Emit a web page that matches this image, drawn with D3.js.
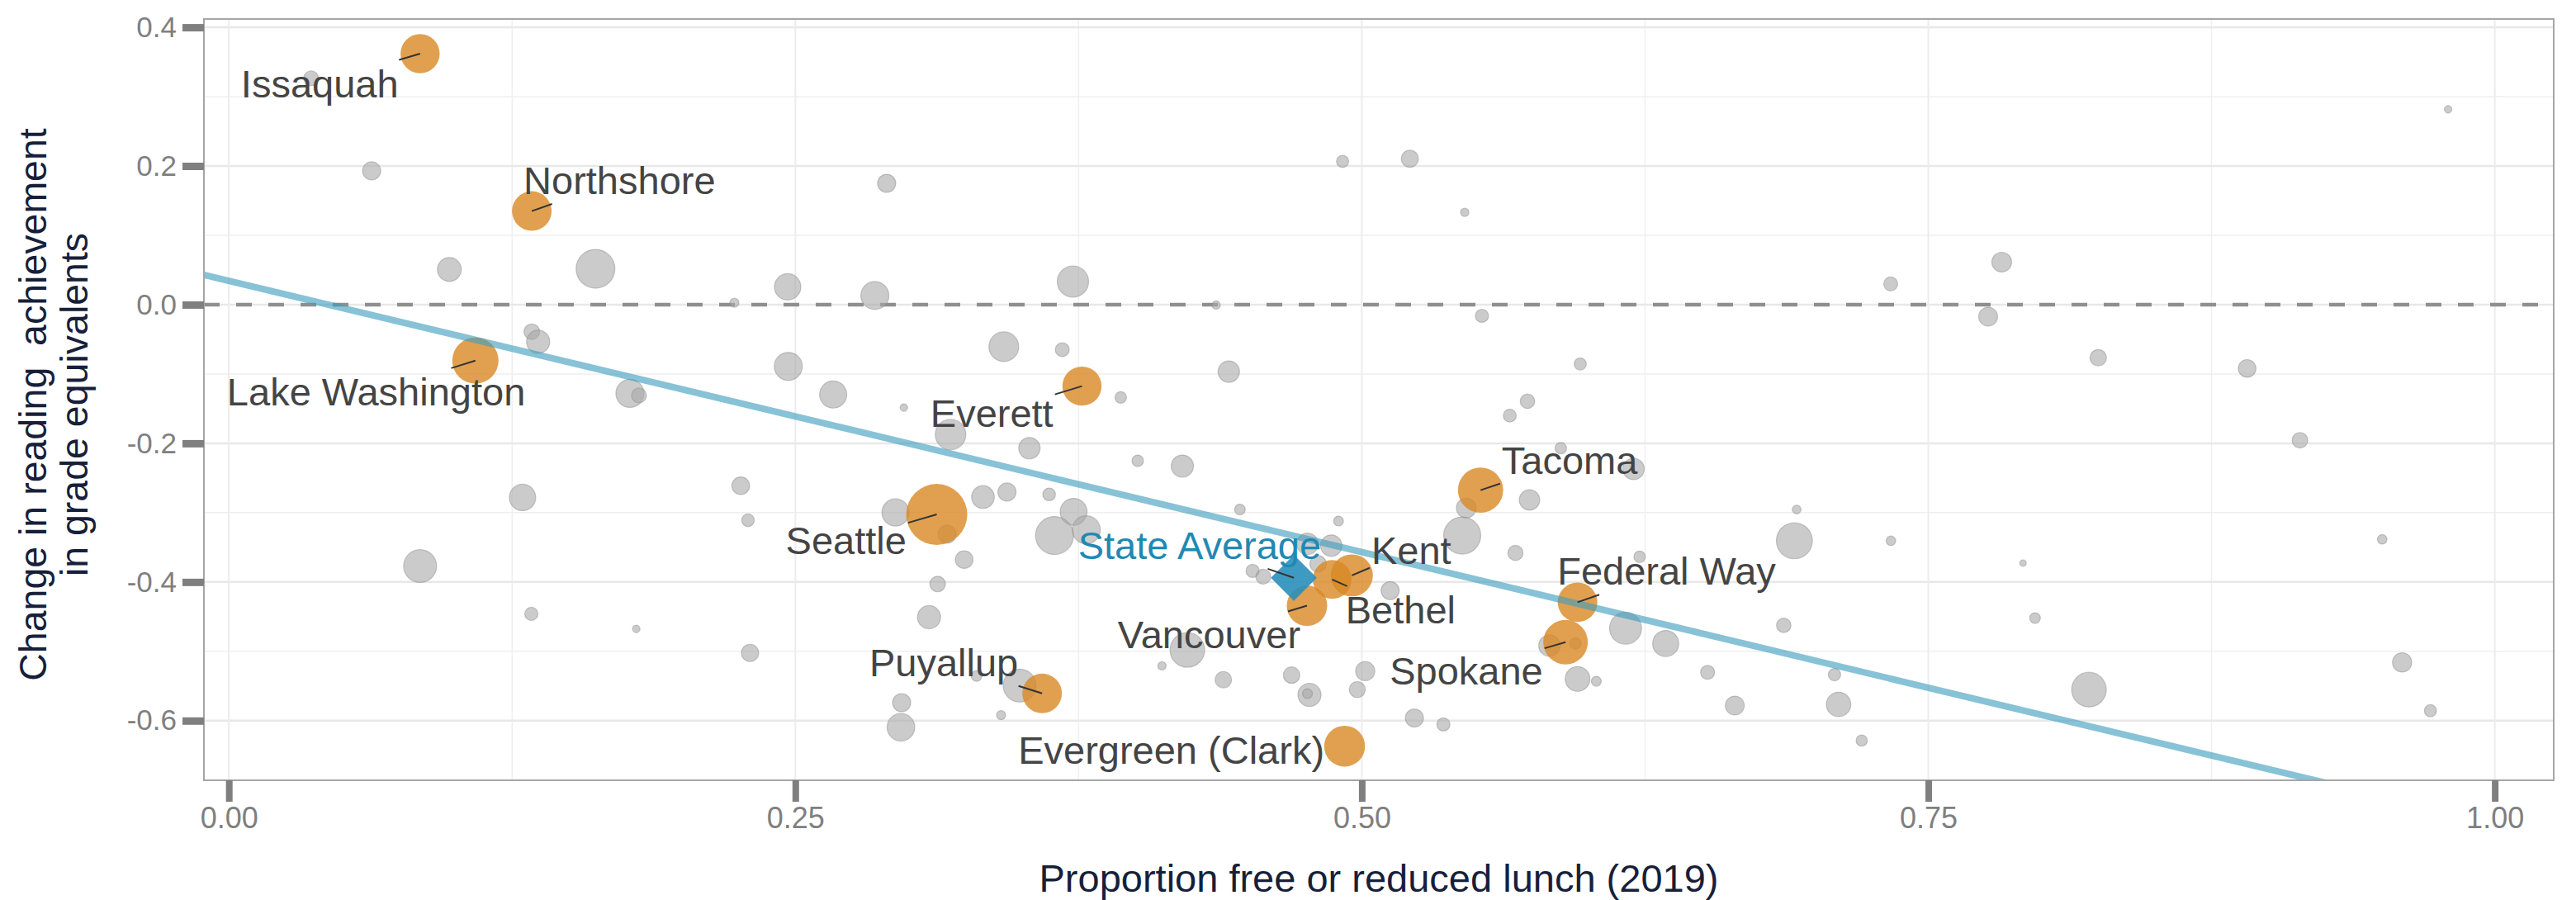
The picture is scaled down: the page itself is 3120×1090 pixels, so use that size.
<!DOCTYPE html>
<html><head><meta charset="utf-8">
<script src="https://cdn.jsdelivr.net/npm/d3@7"></script>
<style>body{margin:0;background:#fff}</style>
</head><body><svg id="chart" width="3120" height="1090"></svg>
<script>
// ---------- data ----------
const xTicks = [0, 0.25, 0.5, 0.75, 1];
const xTickLabels = ["0.00", "0.25", "0.50", "0.75", "1.00"];
const yTicks = [-0.6, -0.4, -0.2, 0, 0.2, 0.4];
const yTickLabels = ["-0.6", "-0.4", "-0.2", "0.0", "0.2", "0.4"];
const xMinor = [0.125, 0.375, 0.625, 0.875];
const yMinor = [-0.5, -0.3, -0.1, 0.1, 0.3];

// other districts: [proportion FRL, change in reading GE, enrollment (thousands)]
const otherDistricts = [
 [0.0363,0.3265,3.2],[0.063,0.193,4.7],[0.0973,0.0508,8.2],[0.1618,0.0517,21.6],
 [0.1337,-0.039,3.5],[0.1365,-0.0536,7.7],[0.177,-0.128,11.3],[0.181,-0.131,3.2],
 [0.1296,-0.278,10.0],[0.0844,-0.377,15.6],[0.1335,-0.446,2.5],[0.1798,-0.4676,0.8],
 [0.2903,0.175,4.7],[0.2466,0.0257,10.0],[0.2231,0.0027,1.2],[0.2851,0.0132,11.3],
 [0.3725,0.0333,14.1],[0.4357,-0.0006,1.0],[0.342,-0.0607,12.7],[0.3678,-0.0649,2.8],
 [0.2469,-0.0891,11.3],[0.4413,-0.0966,6.6],[0.3936,-0.1338,1.9],[0.2667,-0.1296,10.6],
 [0.2979,-0.1484,0.8],[0.3185,-0.1873,13.4],[0.3533,-0.207,6.6],[0.4011,-0.2252,1.9],
 [0.4208,-0.2329,7.1],[0.2259,-0.2612,4.5],[0.2291,-0.311,2.3],[0.2942,-0.2997,10.6],
 [0.317,-0.331,4.7],[0.3328,-0.2775,7.4],[0.3434,-0.2703,4.7],[0.362,-0.2737,2.3],
 [0.3728,-0.2988,10.4],[0.3644,-0.333,20.7],[0.3784,-0.3248,11.3],[0.4462,-0.2955,1.65],
 [0.3245,-0.3677,4.5],[0.3128,-0.4029,3.5],[0.309,-0.4508,7.7],[0.23,-0.5023,4.3],
 [0.33,-0.5356,1.65],[0.349,-0.5494,15.6],[0.3408,-0.592,1.2],[0.2969,-0.574,4.7],
 [0.2966,-0.6095,11.0],[0.423,-0.498,17.2],[0.4118,-0.521,1.0],[0.4389,-0.541,3.9],
 [0.469,-0.5344,3.9],[0.4769,-0.5628,7.7],[0.476,-0.561,1.4],[0.4518,-0.384,2.5],
 [0.4565,-0.3924,3.2],[0.476,-0.345,6.6],[0.4807,-0.3738,3.9],[0.5461,-0.2933,5.6],
 [0.5443,-0.333,19.8],[0.574,-0.2817,6.0],[0.6199,-0.237,6.6],[0.5878,-0.207,1.9],
 [0.4897,-0.3121,1.4],[0.5678,-0.3581,3.3],[0.4865,-0.3476,6.6],[0.6226,-0.3636,1.9],
 [0.5125,-0.4124,4.7],[0.5828,-0.4918,6.6],[0.5943,-0.4888,1.9],[0.6164,-0.4667,14.7],
 [0.6341,-0.4888,9.8],[0.5952,-0.5399,8.8],[0.6035,-0.5432,1.4],[0.5015,-0.5286,5.3],
 [0.498,-0.5552,3.7],[0.5232,-0.5962,4.7],[0.536,-0.6054,2.5],[0.6919,-0.2955,1.1],
 [0.6909,-0.3406,18.6],[0.7335,-0.3406,1.3],[0.6862,-0.4625,3.0],[0.6526,-0.5303,2.8],
 [0.6646,-0.5782,5.1],[0.7086,-0.5336,2.2],[0.7104,-0.5766,8.6],[0.7206,-0.6288,1.8],
 [0.4915,0.2066,2.1],[0.5212,0.2104,4.2],[0.5454,0.1331,1.0],[0.553,-0.0161,2.5],
 [0.7334,0.0299,2.8],[0.5964,-0.0857,2.1],[0.5731,-0.1393,3.0],[0.5653,-0.1601,2.4],
 [0.9794,0.2818,0.8],[0.7824,0.0613,5.6],[0.7764,-0.0173,5.1],[0.825,-0.0766,3.9],
 [0.8907,-0.092,4.5],[0.914,-0.1956,3.5],[0.7918,-0.3727,0.6],[0.7971,-0.4521,1.65],
 [0.8209,-0.5552,17.2],[0.9503,-0.3385,1.3],[0.9591,-0.516,5.3],[0.9716,-0.5857,2.1]
];

const namedDistricts = ["Issaquah","Northshore","Lake Washington","Everett","Seattle","Puyallup",
  "Evergreen (Clark)","Vancouver","Bethel","Kent","Tacoma","Federal Way","Spokane"];
const namedFrl    = [0.0844,0.1337,0.1088,0.3765,0.3124,0.3589,0.4924,0.4758,0.4869,0.4956,0.5524,0.5952,0.5899];
const namedChange = [0.362,0.135,-0.0807,-0.1175,-0.3026,-0.5607,-0.6368,-0.4342,-0.3964,-0.3905,-0.2675,-0.4292,-0.4868];
const namedEnroll = [22.0,22.5,30.7,22.0,53.5,22.5,23.9,23.5,21.6,25.4,29.4,22.5,28.5];
// repelled label anchors (data units: centre x, baseline y)
const labelFrl    = [0.0401,0.1724,0.065,0.3367,0.2724,0.3155,0.4159,0.4326,0.5171,0.5218,0.5917,0.6345,0.5461];
const labelChange = [0.2994,0.1595,-0.1452,-0.1768,-0.3602,-0.5357,-0.6619,-0.496,-0.4595,-0.3738,-0.244,-0.404,-0.5482];
const labelSegment = [true,true,true,true,true,true,false,true,true,true,true,true,true];

const stateAverageName = "State Average";
const stateAverage = [0.47, -0.394];
const stateAverageLabel = [0.4284, -0.3667];

const trendCoef = [0.0344, -0.7825]; // intercept, slope

// ---------- layout ----------
const W = 3120, H = 1090;
const P = {left: 247, right: 3093, top: 23, bottom: 945};
const svg = d3.select("#chart");
const x = d3.scaleLinear().domain([-0.011, 1.026]).range([P.left, P.right]);
const y = d3.scaleLinear().domain([-0.686, 0.412]).range([P.bottom, P.top]);
const r = d3.scaleSqrt().domain([0, 55]).range([0, 37.5]);
const FONT = "'Liberation Sans', Arial, sans-serif";

svg.append("rect").attr("width", W).attr("height", H).attr("fill", "#fff");
svg.append("defs").append("clipPath").attr("id", "clip")
  .append("rect").attr("x", P.left).attr("y", P.top)
  .attr("width", P.right - P.left).attr("height", P.bottom - P.top);

const grid = svg.append("g");
grid.selectAll(".ymin").data(yMinor).join("line")
  .attr("x1", P.left).attr("x2", P.right).attr("y1", d => y(d)).attr("y2", d => y(d))
  .attr("stroke", "#efefef").attr("stroke-width", 1.5);
grid.selectAll(".xmin").data(xMinor).join("line")
  .attr("y1", P.top).attr("y2", P.bottom).attr("x1", d => x(d)).attr("x2", d => x(d))
  .attr("stroke", "#efefef").attr("stroke-width", 1.5);
grid.append("g").selectAll("line").data(yTicks).join("line")
  .attr("x1", P.left).attr("x2", P.right).attr("y1", d => y(d)).attr("y2", d => y(d))
  .attr("stroke", "#e8e8e8").attr("stroke-width", 2.5);
grid.append("g").selectAll("line").data(xTicks).join("line")
  .attr("y1", P.top).attr("y2", P.bottom).attr("x1", d => x(d)).attr("x2", d => x(d))
  .attr("stroke", "#ececec").attr("stroke-width", 2);

// zero reference line
svg.append("line").attr("x1", P.left).attr("x2", P.right)
  .attr("y1", y(0)).attr("y2", y(0))
  .attr("stroke", "#8f8f8f").attr("stroke-width", 4.5).attr("stroke-dasharray", "19 20");

const plot = svg.append("g").attr("clip-path", "url(#clip)");

// other districts
plot.append("g").selectAll("circle").data(otherDistricts).join("circle")
  .attr("cx", d => x(d[0])).attr("cy", d => y(d[1])).attr("r", d => r(d[2]))
  .attr("fill", "#a9a9a9").attr("fill-opacity", 0.6)
  .attr("stroke", "#8a8a8a").attr("stroke-opacity", 0.45).attr("stroke-width", 1.2);

// named districts
const named = namedDistricts.map((n, i) => ({name: n, fx: namedFrl[i], cy: namedChange[i], e: namedEnroll[i],
  lx: labelFrl[i], ly: labelChange[i], seg: labelSegment[i]}));
plot.append("g").selectAll("circle").data(named).join("circle")
  .attr("cx", d => x(d.fx)).attr("cy", d => y(d.cy)).attr("r", d => r(d.e))
  .attr("fill", "#d88824").attr("fill-opacity", 0.8);

// state average diamond
plot.append("path")
  .attr("d", d3.symbol().type(d3.symbolSquare).size(1550)())
  .attr("transform", `translate(${x(stateAverage[0])},${y(stateAverage[1])}) rotate(45)`)
  .attr("fill", "#2a8fbb").attr("fill-opacity", 0.9);

// regression line
const xd = x.domain();
plot.append("line")
  .attr("x1", x(xd[0])).attr("y1", y(trendCoef[0] + trendCoef[1] * xd[0]))
  .attr("x2", x(xd[1])).attr("y2", y(trendCoef[0] + trendCoef[1] * xd[1]))
  .attr("stroke", "#3f9cbd").attr("stroke-opacity", 0.62).attr("stroke-width", 8);

// labels with repel-style segments
const segG = svg.append("g");
const labG = svg.append("g").attr("font-family", FONT).attr("font-size", 47);
function segEnd(px, py, bb, pad) {
  const x0 = bb.x - pad, x1 = bb.x + bb.width + pad, y0 = bb.y - pad, y1 = bb.y + bb.height + pad;
  const cx = bb.x + bb.width / 2, cy = bb.y + bb.height / 2;
  const dx = cx - px, dy = cy - py;
  const tx = dx !== 0 ? [(x0 - px) / dx, (x1 - px) / dx] : [-Infinity, Infinity];
  const ty = dy !== 0 ? [(y0 - py) / dy, (y1 - py) / dy] : [-Infinity, Infinity];
  const t = Math.max(Math.min(...tx), Math.min(...ty));
  return [px + t * dx, py + t * dy];
}
function addLabel(text, px, py, lx, ly, color, seg) {
  const t = labG.append("text").attr("x", x(lx)).attr("y", y(ly))
    .attr("text-anchor", "middle").attr("fill", color).text(text);
  if (!seg) return;
  const bb = t.node().getBBox();
  const [ex, ey] = segEnd(x(px), y(py), bb, 2);
  segG.append("line").attr("x1", x(px)).attr("y1", y(py)).attr("x2", ex).attr("y2", ey)
    .attr("stroke", "#333").attr("stroke-width", 2);
}
named.forEach(d => addLabel(d.name, d.fx, d.cy, d.lx, d.ly, "#444444", d.seg));
addLabel(stateAverageName, stateAverage[0], stateAverage[1], stateAverageLabel[0], stateAverageLabel[1], "#1f89b3", true);

// panel border
svg.append("rect").attr("x", P.left).attr("y", P.top)
  .attr("width", P.right - P.left).attr("height", P.bottom - P.top)
  .attr("fill", "none").attr("stroke", "#a6a6a6").attr("stroke-width", 2);

// axes
const yAxis = d3.axisLeft(y).tickValues(yTicks).tickSize(26).tickPadding(7)
  .tickFormat((d, i) => yTickLabels[i]);
const gy = svg.append("g").attr("transform", `translate(${P.left},0)`).call(yAxis);
gy.select(".domain").remove();
gy.selectAll(".tick line").attr("stroke", "#7f7f7f").attr("stroke-width", 9);
gy.selectAll(".tick text").attr("font-family", FONT).attr("font-size", 35).attr("fill", "#7f7f7f");

const xAxis = d3.axisBottom(x).tickValues(xTicks).tickSize(26).tickPadding(6)
  .tickFormat((d, i) => xTickLabels[i]);
const gx = svg.append("g").attr("transform", `translate(0,${P.bottom})`).call(xAxis);
gx.select(".domain").remove();
gx.selectAll(".tick line").attr("stroke", "#7f7f7f").attr("stroke-width", 8);
gx.selectAll(".tick text").attr("font-family", FONT).attr("font-size", 36).attr("fill", "#7f7f7f");

// titles
const titleColor = "#171f3a";
svg.append("text").attr("x", (P.left + P.right) / 2).attr("y", 1080)
  .attr("text-anchor", "middle").attr("font-family", FONT).attr("font-size", 47)
  .attr("fill", titleColor).text("Proportion free or reduced lunch (2019)");
const yMid = 490;
[["Change in reading  achievement", 56], ["in grade equivalents", 106]].forEach(([t, bx]) => {
  svg.append("text").attr("transform", `translate(${bx},${yMid}) rotate(-90)`)
    .attr("text-anchor", "middle").attr("font-family", FONT).attr("font-size", 46.5)
    .style("white-space", "pre").attr("fill", titleColor).text(t);
});
</script>
</body></html>
